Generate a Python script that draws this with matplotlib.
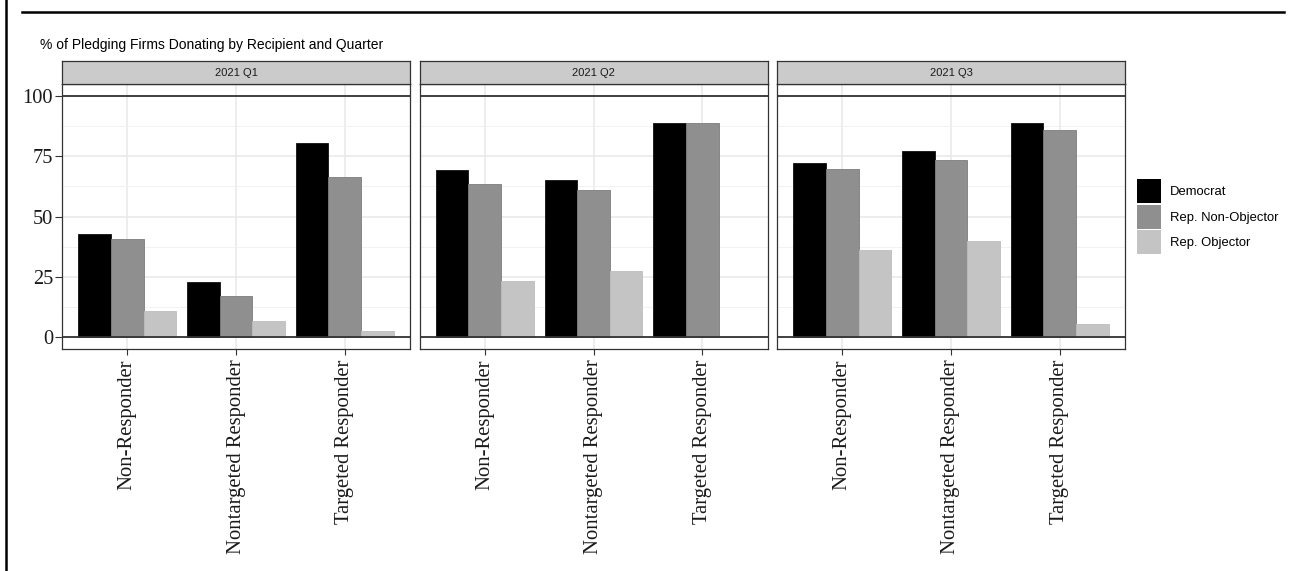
import matplotlib
matplotlib.use("Agg")
import matplotlib.pyplot as plt
from matplotlib.patches import Patch
from matplotlib.lines import Line2D
import numpy as np

# ---- data -----------------------------------------------------------------
quarters = ["2021 Q1", "2021 Q2", "2021 Q3"]
categories = ["Non-Responder", "Nontargeted Responder", "Targeted Responder"]
recipients = ["Democrat", "Rep. Non-Objector", "Rep. Objector"]

# % of pledging firms donating, one list per quarter (order follows categories)
democrat = [[42.6, 22.8, 80.4], [69.2, 65.3, 88.7], [72.4, 77.0, 88.7]]
rep_non_objector = [[40.5, 17.0, 66.4], [63.3, 60.8, 88.7], [69.9, 73.4, 85.9]]
rep_objector = [[10.6, 6.8, 2.5], [23.2, 27.4, 0.0], [36.1, 39.9, 5.2]]

y_ticks = [0, 25, 50, 75, 100]
title = "% of Pledging Firms Donating by Recipient and Quarter"

# ---- styling --------------------------------------------------------------
fills = ["#000000", "#8f8f8f", "#c4c4c4"]
edges = ["#111111", "#7d7d7d", "#bdbdbd"]
SANS = ["Liberation Sans", "DejaVu Sans"]
SERIF = ["Liberation Serif", "DejaVu Serif"]
DARK = "#333333"

W, H, DPI = 1298, 571, 100
fig = plt.figure(figsize=(W / DPI, H / DPI), dpi=DPI)
fig.patch.set_facecolor("white")


def px_axes(x0, y0, x1, y1, **kw):
    return fig.add_axes([x0 / W, 1 - y1 / H, (x1 - x0) / W, (y1 - y0) / H], **kw)


# page rules
fig.add_artist(Line2D([6 / W, 6 / W], [0, 1], color="black", lw=1.8))
fig.add_artist(Line2D([22 / W, 1284 / W], [1 - 12 / H, 1 - 12 / H], color="black", lw=1.8))

fig.text(40 / W, 1 - 45 / H, title, fontsize=10, family=SANS, color="black",
         ha="left", va="center")

panel_lefts = [62, 419.5, 777]
panel_w = 348
strip_top, panel_top, panel_bot = 61, 84, 349

series = [democrat, rep_non_objector, rep_objector]
x = np.arange(1, len(categories) + 1)
bar_w = 0.3

for qi, q in enumerate(quarters):
    x0 = panel_lefts[qi]
    ax = px_axes(x0, panel_top, x0 + panel_w, panel_bot)
    ax.set_facecolor("white")
    for si in range(len(recipients)):
        vals = series[si][qi]
        ax.bar(x + (si - 1) * bar_w, vals, width=bar_w, color=fills[si],
               edgecolor=edges[si], linewidth=0.6, zorder=3)
    ax.axhline(0, color=DARK, lw=1.3, zorder=4)
    ax.axhline(100, color=DARK, lw=1.3, zorder=4)
    ax.set_xlim(0.4, 3.6)
    ax.set_ylim(-5, 105)
    ax.set_xticks(x)
    ax.set_xticklabels(categories, rotation=90, ha="center", va="top",
                       family=SERIF, fontsize=14.9, color="#1a1a1a")
    ax.set_yticks(y_ticks)
    ax.set_yticks([12.5, 37.5, 62.5, 87.5], minor=True)
    ax.grid(True, which="major", color="#e8e8e8", lw=1.1, zorder=0)
    ax.grid(True, which="minor", axis="y", color="#f0f0f0", lw=0.6, zorder=0)
    ax.set_axisbelow(True)
    ax.tick_params(axis="x", length=4.5, width=0.8, color=DARK, pad=3)
    ax.tick_params(axis="y", which="minor", length=0)
    if qi == 0:
        ax.set_yticklabels([str(t) for t in y_ticks], family=SERIF, fontsize=14.7,
                           color="#1a1a1a")
        ax.tick_params(axis="y", which="major", length=5, width=0.8, color=DARK, pad=1.5)
    else:
        ax.tick_params(axis="y", which="major", length=0, labelleft=False)
    for sp in ax.spines.values():
        sp.set_color(DARK)
        sp.set_linewidth(0.9)

    # facet strip
    sx = px_axes(x0, strip_top, x0 + panel_w, panel_top)
    sx.set_facecolor("#cbcbcb")
    sx.set_xticks([])
    sx.set_yticks([])
    for sp in sx.spines.values():
        sp.set_color(DARK)
        sp.set_linewidth(0.9)
    sx.text(0.5, 0.5, q, transform=sx.transAxes, ha="center", va="center",
            fontsize=8, family=SANS, color="#1a1a1a")

handles = [Patch(facecolor=fills[i], edgecolor="none") for i in range(3)]
fig.legend(handles, recipients, loc="upper left",
           bbox_to_anchor=(1137 / W, 1 - 179 / H), frameon=False,
           prop={"family": SANS, "size": 9.4}, handlelength=1.8, handleheight=2.45,
           handletextpad=0.7, labelspacing=0.12, borderpad=0, borderaxespad=0)

fig.savefig("out.png", dpi=DPI)
